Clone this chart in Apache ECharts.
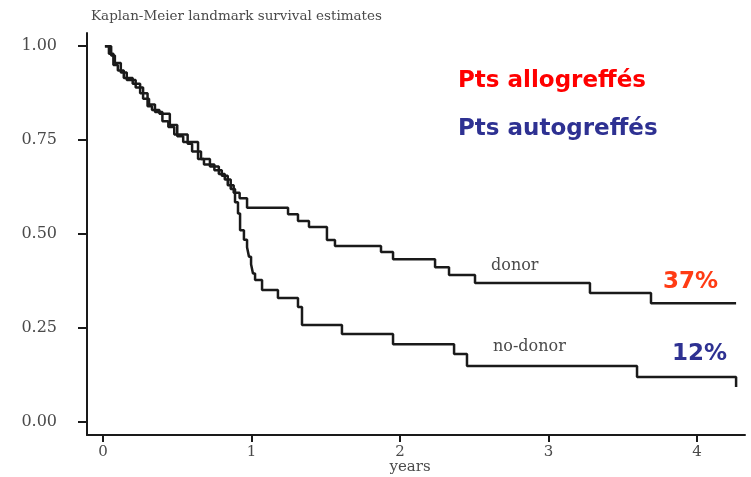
<!DOCTYPE html>
<html>
<head>
<meta charset="utf-8">
<script src="https://cdn.jsdelivr.net/npm/echarts@6/dist/echarts.min.js"></script>
<style>
  html, body { margin: 0; padding: 0; background: #fff; }
  #chart { width: 751px; height: 477px; }
</style>
</head>
<body>
<div id="chart"></div>
<script>
// -- data (years, survival) --
const donorT = [0.013, 0.04, 0.07, 0.10, 0.14, 0.20, 0.25, 0.30, 0.33, 0.38, 0.45, 0.50, 0.54, 0.64, 0.68, 0.75, 0.80, 0.84, 0.88, 0.92, 0.97,
  1.246, 1.313, 1.387, 1.508, 1.562, 1.872, 1.953, 2.236, 2.33, 2.505, 3.279, 3.69, 4.263];
const donorS = [1.0, 0.98, 0.95, 0.935, 0.915, 0.90, 0.875, 0.84, 0.83, 0.82, 0.79, 0.76, 0.745, 0.70, 0.685, 0.67, 0.655, 0.63, 0.61, 0.595, 0.57,
  0.553, 0.535, 0.519, 0.484, 0.468, 0.452, 0.433, 0.412, 0.391, 0.37, 0.343, 0.316, 0.316];

const noDonorT = [0.013, 0.055, 0.08, 0.12, 0.16, 0.22, 0.27, 0.31, 0.35, 0.40, 0.44, 0.48, 0.57, 0.60, 0.66, 0.72, 0.78, 0.82, 0.86, 0.889, 0.909, 0.923,
  0.949, 0.97, 0.983, 0.997, 1.01, 1.024, 1.071, 1.178, 1.313, 1.34, 1.609, 1.953, 2.364, 2.451, 3.596, 4.263];
const noDonorS = [1.0, 0.975, 0.955, 0.93, 0.91, 0.89, 0.86, 0.845, 0.825, 0.80, 0.785, 0.765, 0.74, 0.72, 0.70, 0.68, 0.66, 0.645, 0.62, 0.585, 0.555, 0.51,
  0.485, 0.465, 0.44, 0.42, 0.395, 0.378, 0.351, 0.33, 0.306, 0.258, 0.234, 0.207, 0.181, 0.149, 0.12, 0.093];

const xTicks = [0, 1, 2, 3, 4];
const yTicks = [0, 0.25, 0.5, 0.75, 1];

const INK = '#1a1a1a';
const GREY = '#4a4a4a';
const SERIF = '"DejaVu Serif", "Liberation Serif", serif';
const COMIC = '"DejaVu Sans", "Open Sans", sans-serif';

const zip = (t, s) => t.map((v, i) => [v, s[i]]);

const chart = echarts.init(document.getElementById('chart'), null, { renderer: 'canvas' });

chart.setOption({
  animation: false,
  backgroundColor: '#fff',
  title: {
    text: 'Kaplan-Meier landmark survival estimates',
    left: 86, top: 4,
    textStyle: { fontFamily: SERIF, fontWeight: 'normal', fontSize: 13.5, color: GREY }
  },
  // keep the plot box exactly where the reference has it
  grid: { left: 87, right: 6, top: 33, bottom: 42, containLabel: false, outerBoundsMode: 'none' },
  xAxis: {
    type: 'value',
    min: -0.1077, max: 4.323,
    name: 'years',
    nameLocation: 'middle',
    nameGap: 25,
    nameMoveOverlap: false,
    nameTextStyle: { fontFamily: SERIF, fontSize: 15, color: GREY, padding: [0, 12, 0, 0] },
    axisLine: { onZero: false, lineStyle: { color: INK, width: 2 } },
    axisTick: { customValues: xTicks, length: 7, lineStyle: { color: INK, width: 2 } },
    axisLabel: { customValues: xTicks, fontFamily: SERIF, fontSize: 15, color: GREY, margin: 10 },
    splitLine: { show: false }
  },
  yAxis: {
    type: 'value',
    min: -0.0346, max: 1.035,
    axisLine: { show: true, onZero: false, lineStyle: { color: INK, width: 2 } },
    axisTick: { show: true, customValues: yTicks, length: 9, lineStyle: { color: INK, width: 2 } },
    axisLabel: {
      customValues: yTicks, fontFamily: SERIF, fontSize: 16, color: GREY, margin: 30,
      formatter: v => v.toFixed(2)
    },
    splitLine: { show: false }
  },
  series: [
    {
      name: 'donor', type: 'line', step: 'end', symbol: 'none',
      data: zip(donorT, donorS),
      lineStyle: { color: INK, width: 2.5 }
    },
    {
      name: 'no-donor', type: 'line', step: 'end', symbol: 'none',
      data: zip(noDonorT, noDonorS),
      lineStyle: { color: INK, width: 2.5 }
    }
  ],
  graphic: [
    { type: 'text', left: 491, top: 258, style: { text: 'donor', font: '16px ' + SERIF, fill: GREY } },
    { type: 'text', left: 493, top: 339, style: { text: 'no-donor', font: '16px ' + SERIF, fill: GREY } },
    { type: 'text', left: 458, top: 70, style: { text: 'Pts allogreffés', font: 'bold 23px ' + COMIC, fill: '#ff0000' } },
    { type: 'text', left: 458, top: 118, style: { text: 'Pts autogreffés', font: 'bold 23px ' + COMIC, fill: '#2e3192' } },
    { type: 'text', left: 663, top: 271, style: { text: '37%', font: 'bold 23px ' + COMIC, fill: '#ff3b14' } },
    { type: 'text', left: 672, top: 343, style: { text: '12%', font: 'bold 23px ' + COMIC, fill: '#2e3192' } }
  ]
});
</script>
</body>
</html>
